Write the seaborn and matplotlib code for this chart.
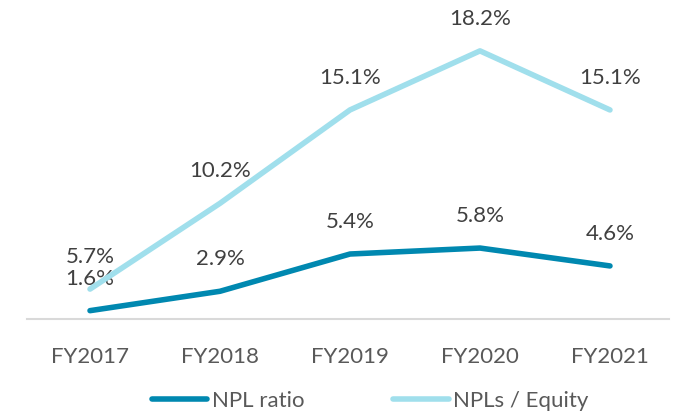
import matplotlib
matplotlib.use('Agg')
import matplotlib.pyplot as plt
import seaborn as sns
import pandas as pd

years = ["FY2017", "FY2018", "FY2019", "FY2020", "FY2021"]
npl_ratio = [1.6, 2.9, 5.4, 5.8, 4.6]
npl_equity = [5.7, 10.2, 15.1, 18.2, 15.1]
series_names = ["NPL ratio", "NPLs / Equity"]

sns.set_theme(style='white')
plt.rcParams['font.family'] = ['Lato', 'DejaVu Sans']

W, H = 674, 416
fig = plt.figure(figsize=(W / 100, H / 100), dpi=100)
left, right, bottom, top = 26.7, 669, 319, 20
ax = fig.add_axes([left / W, 1 - bottom / H, (right - left) / W, (bottom - top) / H])
ax2 = ax.twinx()

df = pd.DataFrame({'year': years, 'npl': npl_ratio, 'eq': npl_equity})
dark = '#0088B0'
light = '#A0DFEC'
txt = '#404040'

sns.lineplot(data=df, x='year', y='npl', ax=ax, color=dark, lw=4,
             solid_capstyle='round', legend=False)
sns.lineplot(data=df, x='year', y='eq', ax=ax2, color=light, lw=4,
             solid_capstyle='round', legend=False)

ax.set_xlim(-0.487, 4.454)
ax.set_ylim(1.04, 21.1)
ax2.set_ylim(4.13, 19.82)

for i, v in enumerate(npl_ratio):
    ax.annotate(f"{v:.1f}%", (i, v), xytext=(0, 18.7), textcoords='offset points',
                ha='center', va='baseline', fontsize=16, color=txt)
for i, v in enumerate(npl_equity):
    ax2.annotate(f"{v:.1f}%", (i, v), xytext=(0, 18.7), textcoords='offset points',
                 ha='center', va='baseline', fontsize=16, color=txt)

for a in (ax, ax2):
    a.set_yticks([])
    a.set_xlabel('')
    a.set_ylabel('')
    for s in ['top', 'left', 'right', 'bottom']:
        a.spines[s].set_visible(False)
ax.spines['bottom'].set_visible(True)
ax.spines['bottom'].set_color('#d9d9d9')
ax.spines['bottom'].set_linewidth(1.5)
ax.tick_params(axis='x', length=0, pad=20, labelsize=16, labelcolor='#595959')

from matplotlib.lines import Line2D
handles = [Line2D([], [], color=dark, lw=4, solid_capstyle='round'),
           Line2D([], [], color=light, lw=4, solid_capstyle='round')]
leg = fig.legend(handles, series_names, loc='center', bbox_to_anchor=(370 / W, 1 - 401 / H),
                 ncol=2, frameon=False, handlelength=2.5, handletextpad=0.2,
                 columnspacing=4, fontsize=16)
for t in leg.get_texts():
    t.set_color('#595959')

fig.savefig('out.png', dpi=100)
